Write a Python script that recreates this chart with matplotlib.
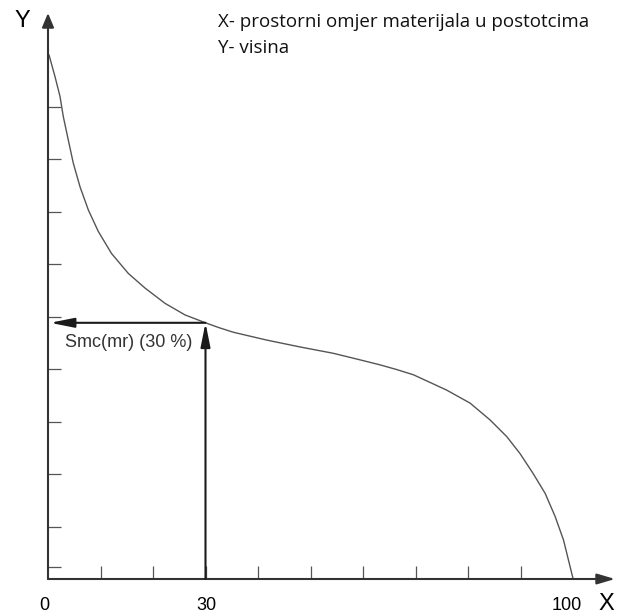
import matplotlib
matplotlib.use("Agg")
import matplotlib.pyplot as plt

# material ratio curve (x in %, y = height)
mr_pct = [0.2, 1.33, 2.29, 2.91, 3.87, 4.82, 6.1, 7.68, 9.58, 12.1, 15.3,
          18.5, 22.3, 26.1, 30, 32.5, 35.3, 41.7, 48, 54.3, 58.8, 63.2, 66.4,
          69.6, 75.9, 80.4, 84.2, 87.4, 89.9, 92.4, 94.7, 96.6, 98.2, 100]
height = [99.8, 95.7, 91.9, 88.1, 83.6, 79.2, 74.7, 70.3, 66.2, 62.0, 58.2,
          55.4, 52.5, 50.3, 48.8, 47.9, 47.0, 45.5, 44.2, 43.0, 41.9, 40.8,
          39.9, 38.9, 36.0, 33.5, 30.3, 27.1, 23.9, 20.1, 16.3, 11.9, 7.4, 0.1]

mark_x = 30          # chosen material ratio
mark_y = 48.8        # height of the curve there
x_ticks = [10, 20, 30, 40, 50, 60, 70, 80, 90]
y_ticks = [2.3, 10, 20, 30, 40, 50, 60, 70, 80, 90]
x_labels = ["0", "30", "100"]
x_label_vals = [0, 30, 100]
legend_lines = ["X- prostorni omjer materijala u postotcima", "Y- visina"]

PX = 5.25  # pixels per data unit
fig = plt.figure(figsize=(6.18, 6.16), dpi=100)
ax = fig.add_axes([0, 0, 1, 1])
ax.set_xlim(-48 / PX, 570 / PX)
ax.set_ylim(-37 / PX, 579 / PX)

for s in ax.spines.values():
    s.set_visible(False)
ax.spines['left'].set_position(('data', 0))
ax.spines['bottom'].set_position(('data', 0))

ax.set_xticks(x_ticks)
ax.set_yticks(y_ticks)
ax.set_xticklabels([])
ax.set_yticklabels([])
ax.tick_params(axis='both', direction='in', length=9.4, width=0.9,
               color='#555555', top=False, right=False)

# axes with arrow heads
axis_kw = dict(color='#333333', lw=1.5, shrinkA=0, shrinkB=0)
ax.annotate('', xy=(108.0, 0), xytext=(0, 0),
            arrowprops=dict(arrowstyle='-|>,head_length=1.08,head_width=0.32',
                            mutation_scale=10, **axis_kw))
ax.annotate('', xy=(0, 107.8), xytext=(0, 0),
            arrowprops=dict(arrowstyle='-|>,head_length=0.86,head_width=0.36',
                            mutation_scale=10, **axis_kw))

# curve
ax.plot(mr_pct, height, color='#555555', lw=1.0, solid_joinstyle='round')

# marker arrows
mk_kw = dict(arrowstyle='-|>,head_length=1.0,head_width=0.2', mutation_scale=14.4,
             color='#1a1a1a', lw=1.5, shrinkA=0, shrinkB=0)
ax.annotate('', xy=(mark_x, mark_y), xytext=(mark_x, 0), arrowprops=mk_kw)
ax.annotate('', xy=(0.4, mark_y), xytext=(mark_x, mark_y), arrowprops=mk_kw)

sans = ['Liberation Sans', 'DejaVu Sans']
ax.text(3.24, 45.1, "Smc(mr) (30 %)", fontsize=13, family=sans,
        color='#333333', ha='left', va='center')

# axis names and labels
ax.text(-4.95, 106.3, "Y", fontsize=17, family=sans, ha='center', va='center')
ax.text(106.3, -4.76, "X", fontsize=17, family=sans, ha='center', va='center')
for v, lab, dx in zip(x_label_vals, x_labels, [-4, 1, -6.5]):
    ax.annotate(lab, xy=(v, 0), xytext=(dx * 0.72, -27 * 0.72),
                textcoords='offset points', fontsize=13, family=sans,
                ha='center', va='center')

# explanation text
for i, line in enumerate(legend_lines):
    ax.text((218 - 48) / PX, (579 - 21.7 - 26.3 * i) / PX, line, fontsize=13.5,
            family=['Open Sans', 'DejaVu Sans'], color='#111111',
            ha='left', va='center')

fig.savefig("out.png", dpi=100)
